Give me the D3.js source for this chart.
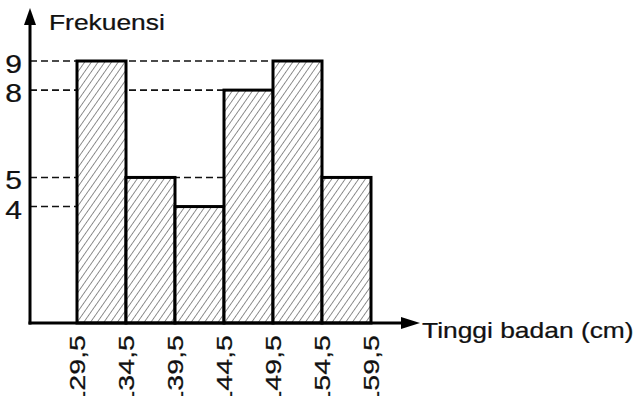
<!DOCTYPE html>
<html>
<head>
<meta charset="utf-8">
<script src="https://cdn.jsdelivr.net/npm/d3@7"></script>
<style>
  body { margin: 0; background: #fff; }
  text { font-family: "Liberation Sans", Arial, sans-serif; fill: #111; stroke: #111; stroke-width: 0.25px; }
</style>
</head>
<body>
<div id="chart"></div>
<script>
// Histogram data: class boundaries (cm) and frequencies
const edges = [129.5, 134.5, 139.5, 144.5, 149.5, 154.5, 159.5];
const edgeLabels = ['129,5', '134,5', '139,5', '144,5', '149,5', '154,5', '159,5'];
const frequencies = [9, 5, 4, 8, 9, 5];
const yTicks = [4, 5, 8, 9];
// where each dashed guide line stops (in cm)
const guideEnds = [129.5, 144.5, 144.5, 149.5];

const width = 642, height = 396;
const originX = 30, baseY = 323;
const stretch = 1.2; // the scan's lettering is wide

const svg = d3.select('#chart').append('svg')
  .attr('width', width)
  .attr('height', height);

const x = d3.scaleLinear().domain([129.5, 159.5]).range([77, 371]);
const y = d3.scaleLinear().domain([0, 9]).range([baseY, 61]);

// Hatch pattern
const defs = svg.append('defs');
const pat = defs.append('pattern')
  .attr('id', 'hatch')
  .attr('patternUnits', 'userSpaceOnUse')
  .attr('width', 5.5)
  .attr('height', 10)
  .attr('patternTransform', 'rotate(35)');
pat.append('rect').attr('width', 5.5).attr('height', 10).attr('fill', '#fff');
pat.append('line')
  .attr('x1', 0).attr('y1', 0).attr('x2', 0).attr('y2', 10)
  .attr('stroke', '#222').attr('stroke-width', 1);

// Dashed guide lines
svg.append('g').selectAll('line')
  .data(yTicks)
  .join('line')
  .attr('x1', originX)
  .attr('x2', (d, i) => x(guideEnds[i]))
  .attr('y1', d => y(d))
  .attr('y2', d => y(d))
  .attr('stroke', '#111')
  .attr('stroke-width', 1.6)
  .attr('stroke-dasharray', '7,4');

// Bars
svg.append('g').selectAll('rect')
  .data(frequencies)
  .join('rect')
  .attr('x', (d, i) => x(edges[i]))
  .attr('y', d => y(d))
  .attr('width', (d, i) => x(edges[i + 1]) - x(edges[i]))
  .attr('height', d => baseY - y(d))
  .attr('fill', 'url(#hatch)')
  .attr('stroke', '#000')
  .attr('stroke-width', 3);

// Axes with arrows
svg.append('line')
  .attr('x1', originX).attr('y1', baseY + 1.5)
  .attr('x2', originX).attr('y2', 20)
  .attr('stroke', '#000').attr('stroke-width', 3);
svg.append('path')
  .attr('d', `M${originX - 6},25 L${originX},8 L${originX + 6},25 Z`)
  .attr('fill', '#000');

svg.append('line')
  .attr('x1', originX - 1.5).attr('y1', baseY)
  .attr('x2', 404).attr('y2', baseY)
  .attr('stroke', '#000').attr('stroke-width', 3);
svg.append('path')
  .attr('d', `M401,${baseY - 6} L420,${baseY} L401,${baseY + 6} Z`)
  .attr('fill', '#000');

// Y tick labels
svg.append('g').selectAll('text')
  .data(yTicks)
  .join('text')
  .attr('transform', d => `translate(22,${y(d) + 3}) scale(${stretch},1)`)
  .attr('dy', '0.36em')
  .attr('text-anchor', 'end')
  .attr('font-size', 25)
  .text(d => d);

// X tick labels (rotated, reading bottom to top, wide lettering)
svg.append('g').selectAll('text')
  .data(edges)
  .join('text')
  .attr('transform', d => `translate(${x(d)},335) rotate(-90) scale(1.3,1)`)
  .attr('dy', '0.36em')
  .attr('text-anchor', 'end')
  .attr('font-size', 22)
  .text((d, i) => edgeLabels[i]);

// Axis titles
svg.append('text')
  .attr('transform', `translate(49,30) scale(${stretch},1)`)
  .attr('font-size', 22)
  .text('Frekuensi');

svg.append('text')
  .attr('transform', `translate(422,338) scale(${stretch},1)`)
  .attr('font-size', 22)
  .text('Tinggi badan (cm)');
</script>
</body>
</html>
